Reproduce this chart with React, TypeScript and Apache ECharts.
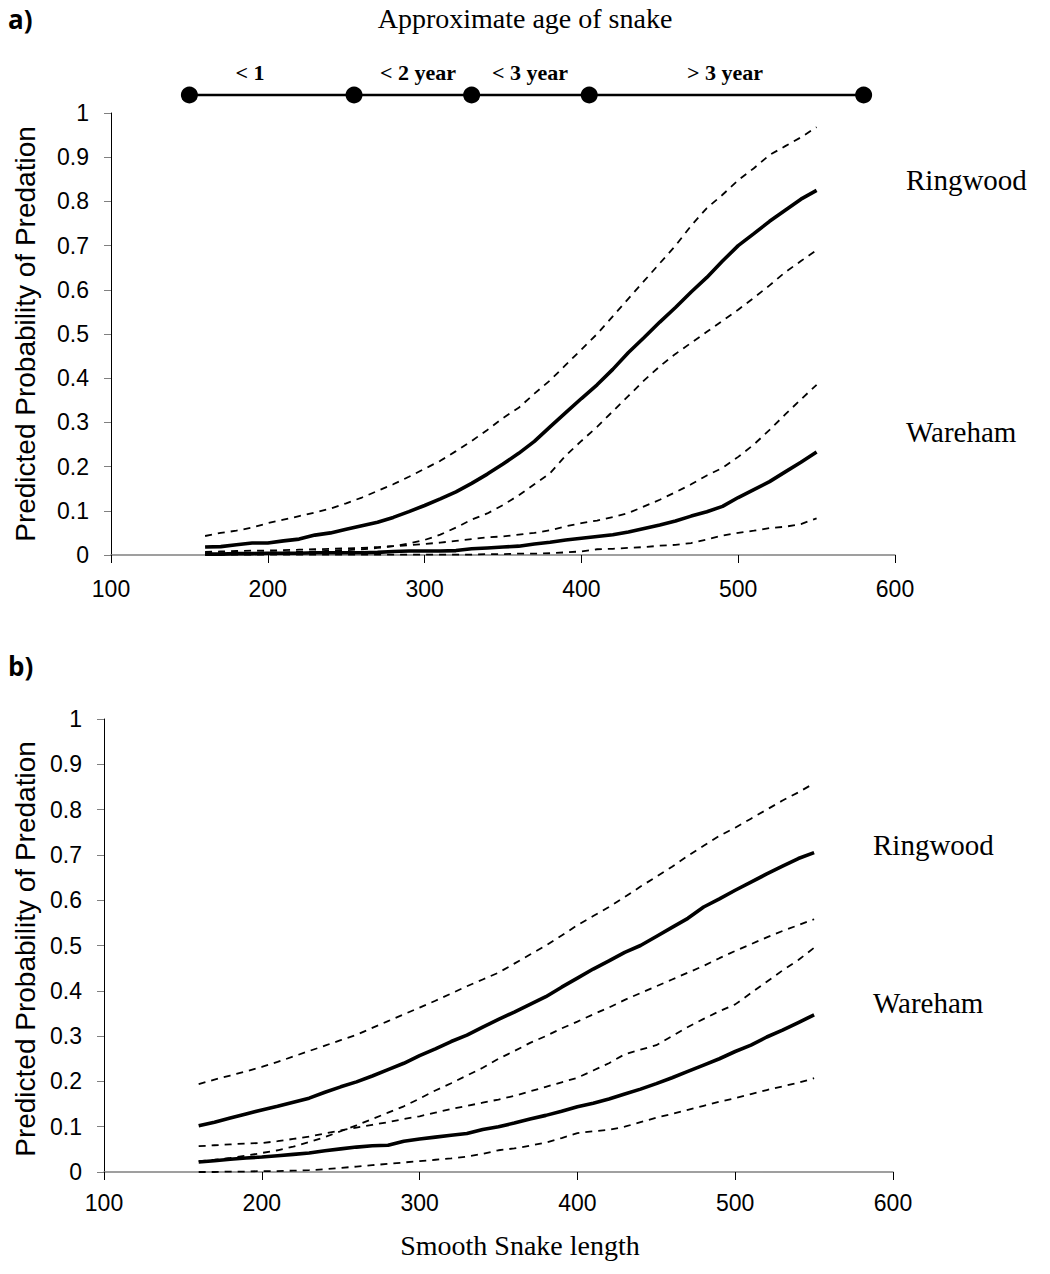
import React, { useEffect, useRef } from "react";
import * as echarts from "echarts";

// Snake length (mm)
const lengths = [160, 170, 180, 190, 200, 210, 220, 230, 240, 250, 260, 270, 280, 290, 300, 310, 320, 330, 340, 350, 360, 370, 380, 390, 400, 410, 420, 430, 440, 450, 460, 470, 480, 490, 500, 510, 520, 530, 540, 550];

// Panel a
const ringwoodA = [0.018, 0.019, 0.023, 0.027, 0.027, 0.032, 0.036, 0.045, 0.05, 0.058, 0.066, 0.074, 0.085, 0.098, 0.112, 0.127, 0.143, 0.162, 0.183, 0.206, 0.23, 0.257, 0.29, 0.322, 0.354, 0.385, 0.42, 0.458, 0.492, 0.527, 0.56, 0.595, 0.628, 0.665, 0.7, 0.727, 0.755, 0.78, 0.805, 0.825];
const ringwoodAUpper = [0.043, 0.05, 0.055, 0.062, 0.072, 0.08, 0.088, 0.096, 0.105, 0.117, 0.13, 0.145, 0.16, 0.177, 0.195, 0.213, 0.235, 0.258, 0.283, 0.31, 0.333, 0.365, 0.395, 0.43, 0.465, 0.5, 0.54, 0.58, 0.62, 0.66, 0.7, 0.745, 0.785, 0.815, 0.848, 0.875, 0.905, 0.925, 0.945, 0.968];
const ringwoodALower = [0.004, 0.004, 0.005, 0.005, 0.006, 0.006, 0.007, 0.008, 0.01, 0.011, 0.013, 0.016, 0.02, 0.026, 0.034, 0.046, 0.062, 0.08, 0.094, 0.113, 0.135, 0.16, 0.185, 0.225, 0.258, 0.29, 0.325, 0.36, 0.395, 0.427, 0.455, 0.48, 0.505, 0.53, 0.555, 0.582, 0.61, 0.64, 0.665, 0.69];
const warehamA = [0.002, 0.002, 0.003, 0.003, 0.004, 0.004, 0.004, 0.005, 0.005, 0.005, 0.005, 0.006, 0.008, 0.009, 0.009, 0.009, 0.01, 0.014, 0.016, 0.018, 0.02, 0.025, 0.029, 0.034, 0.038, 0.042, 0.046, 0.052, 0.06, 0.068, 0.077, 0.088, 0.098, 0.11, 0.13, 0.148, 0.166, 0.188, 0.21, 0.233];
const warehamAUpper = [0.007, 0.008, 0.009, 0.01, 0.01, 0.011, 0.012, 0.013, 0.014, 0.015, 0.016, 0.018, 0.02, 0.022, 0.025, 0.028, 0.032, 0.036, 0.04, 0.042, 0.046, 0.05, 0.056, 0.065, 0.072, 0.078, 0.086, 0.095, 0.11, 0.125, 0.142, 0.16, 0.18, 0.197, 0.222, 0.25, 0.283, 0.318, 0.352, 0.385];
const warehamALower = [0.001, 0.001, 0.001, 0.001, 0.001, 0.001, 0.001, 0.001, 0.001, 0.001, 0.001, 0.001, 0.001, 0.001, 0.001, 0.001, 0.001, 0.001, 0.002, 0.002, 0.003, 0.003, 0.004, 0.006, 0.008, 0.013, 0.014, 0.016, 0.018, 0.021, 0.023, 0.027, 0.035, 0.044, 0.05, 0.055, 0.061, 0.064, 0.07, 0.083];

// Panel b
const ringwoodB = [0.102, 0.11, 0.119, 0.128, 0.137, 0.145, 0.154, 0.163, 0.176, 0.188, 0.199, 0.212, 0.226, 0.24, 0.257, 0.272, 0.288, 0.302, 0.32, 0.337, 0.353, 0.37, 0.387, 0.408, 0.428, 0.448, 0.466, 0.485, 0.5, 0.52, 0.54, 0.56, 0.585, 0.603, 0.622, 0.64, 0.658, 0.675, 0.692, 0.705];
const ringwoodBUpper = [0.194, 0.204, 0.213, 0.222, 0.232, 0.243, 0.255, 0.267, 0.279, 0.291, 0.303, 0.318, 0.333, 0.348, 0.363, 0.378, 0.394, 0.41, 0.425, 0.44, 0.46, 0.48, 0.5, 0.522, 0.545, 0.565, 0.585, 0.607, 0.63, 0.652, 0.674, 0.698, 0.72, 0.742, 0.76, 0.78, 0.8, 0.82, 0.838, 0.858];
const ringwoodBLower = [0.024, 0.027, 0.031, 0.036, 0.042, 0.048, 0.056, 0.066, 0.077, 0.09, 0.103, 0.117, 0.131, 0.145, 0.162, 0.18, 0.196, 0.213, 0.23, 0.25, 0.267, 0.285, 0.3, 0.317, 0.332, 0.348, 0.363, 0.38, 0.395, 0.41, 0.425, 0.44, 0.455, 0.472, 0.488, 0.503, 0.518, 0.532, 0.545, 0.558];
const warehamB = [0.022, 0.025, 0.028, 0.031, 0.033, 0.036, 0.039, 0.042, 0.047, 0.051, 0.055, 0.058, 0.059, 0.068, 0.073, 0.077, 0.081, 0.085, 0.094, 0.1, 0.108, 0.117, 0.125, 0.134, 0.144, 0.152, 0.161, 0.172, 0.183, 0.195, 0.208, 0.222, 0.236, 0.25, 0.266, 0.28, 0.298, 0.313, 0.33, 0.347];
const warehamBUpper = [0.057, 0.059, 0.061, 0.063, 0.064, 0.068, 0.073, 0.078, 0.085, 0.092, 0.098, 0.104, 0.11, 0.117, 0.123, 0.131, 0.139, 0.146, 0.153, 0.16, 0.168, 0.178, 0.188, 0.198, 0.208, 0.224, 0.24, 0.26, 0.27, 0.28, 0.3, 0.32, 0.338, 0.355, 0.37, 0.395, 0.42, 0.445, 0.468, 0.495];
const warehamBLower = [0.0, 0.0, 0.001, 0.001, 0.002, 0.002, 0.003, 0.004, 0.006, 0.009, 0.012, 0.015, 0.018, 0.021, 0.024, 0.027, 0.03, 0.034, 0.04, 0.048, 0.052, 0.058, 0.065, 0.075, 0.086, 0.09, 0.093, 0.1, 0.11, 0.12, 0.128, 0.137, 0.146, 0.155, 0.163, 0.172, 0.181, 0.189, 0.197, 0.207];

// Age timeline (snake length at age boundaries)
const ageBreaks = [150, 255, 330, 405, 580];
const ageLabels = ["< 1", "< 2 year", "< 3 year", "> 3 year"];

const SANS = "'Liberation Sans', Arial, sans-serif";
const SERIF = "'Liberation Serif', 'Times New Roman', serif";

export default function App() {
  const ref = useRef<HTMLDivElement>(null);

  useEffect(() => {
    const chart = echarts.init(ref.current!, null, { renderer: "svg" });

    const pairs = (arr: number[]) => lengths.map((x, i) => [x, arr[i]]);
    const mk = (name: string, arr: number[], idx: number, solid: boolean) => ({
      name,
      type: "line",
      xAxisIndex: idx,
      yAxisIndex: idx,
      data: pairs(arr),
      symbol: "none",
      smooth: false,
      lineStyle: solid
        ? { color: "#000", width: 3.6, type: "solid" }
        : { color: "#000", width: 1.8, type: [7, 6] },
      silent: true,
    });

    const xAxisBase = (gridIndex: number, margin: number) => ({
      type: "value",
      gridIndex,
      min: 100,
      max: 600,
      interval: 100,
      axisLine: { show: true, onZero: false, lineStyle: { color: "#808080", width: 1.5 } },
      axisTick: { show: true, inside: false, length: 8, lineStyle: { color: "#000", width: 1 } },
      axisLabel: { color: "#000", fontSize: 23, fontFamily: SANS, margin },
      splitLine: { show: false },
    });
    const yAxisBase = (gridIndex: number) => ({
      type: "value",
      gridIndex,
      min: 0,
      max: 1,
      interval: 0.1,
      axisLine: { show: true, onZero: false, lineStyle: { color: "#000", width: 1 } },
      axisTick: { show: true, inside: false, length: 7, lineStyle: { color: "#808080", width: 1 } },
      axisLabel: { color: "#000", fontSize: 23, fontFamily: SANS, margin: 22 },
      splitLine: { show: false },
    });

    // label positions (px) for age classes
    const ageLabelX = [250, 418, 530, 725];

    const graphic: any[] = [
      { type: "text", x: 8, y: 19, style: { text: "a)", font: "bold 26px 'Open Sans', 'Liberation Sans', sans-serif", fill: "#000", verticalAlign: "middle" } },
      { type: "text", x: 8, y: 666, style: { text: "b)", font: "bold 26px 'Open Sans', 'Liberation Sans', sans-serif", fill: "#000", verticalAlign: "middle" } },
      { type: "text", x: 525, y: 18, style: { text: "Approximate age of snake", font: `28px ${SERIF}`, fill: "#000", align: "center", verticalAlign: "middle" } },
      ...ageLabels.map((t, i) => ({
        type: "text", x: ageLabelX[i], y: 72,
        style: { text: t, font: `bold 22px ${SERIF}`, fill: "#000", align: "center", verticalAlign: "middle" },
      })),
      { type: "text", x: 906, y: 180, style: { text: "Ringwood", font: `29px ${SERIF}`, fill: "#000", align: "left", verticalAlign: "middle" } },
      { type: "text", x: 906, y: 432, style: { text: "Wareham", font: `29px ${SERIF}`, fill: "#000", align: "left", verticalAlign: "middle" } },
      { type: "text", x: 873, y: 845, style: { text: "Ringwood", font: `29px ${SERIF}`, fill: "#000", align: "left", verticalAlign: "middle" } },
      { type: "text", x: 873, y: 1003, style: { text: "Wareham", font: `29px ${SERIF}`, fill: "#000", align: "left", verticalAlign: "middle" } },
      { type: "text", x: 25, y: 334, rotation: Math.PI / 2, style: { text: "Predicted Probability of Predation", font: `28px ${SANS}`, fill: "#000", align: "center", verticalAlign: "middle" } },
      { type: "text", x: 25, y: 949, rotation: Math.PI / 2, style: { text: "Predicted Probability of Predation", font: `28px ${SANS}`, fill: "#000", align: "center", verticalAlign: "middle" } },
      { type: "text", x: 520, y: 1245, style: { text: "Smooth Snake length", font: `28px ${SERIF}`, fill: "#000", align: "center", verticalAlign: "middle" } },
    ];

    chart.setOption({
      animation: false,
      backgroundColor: "#fff",
      grid: [
        { left: 111, top: 113, width: 784, height: 442 },
        { left: 104, top: 719, width: 789, height: 453 },
        { left: 111, top: 85, width: 784, height: 20 },
      ],
      xAxis: [
        xAxisBase(0, 22),
        xAxisBase(1, 19),
        { type: "value", gridIndex: 2, min: 100, max: 600, show: false },
      ],
      yAxis: [
        yAxisBase(0),
        yAxisBase(1),
        { type: "value", gridIndex: 2, min: -1, max: 1, show: false },
      ],
      series: [
        mk("Ringwood a", ringwoodA, 0, true),
        mk("Ringwood a upper", ringwoodAUpper, 0, false),
        mk("Ringwood a lower", ringwoodALower, 0, false),
        mk("Wareham a", warehamA, 0, true),
        mk("Wareham a upper", warehamAUpper, 0, false),
        mk("Wareham a lower", warehamALower, 0, false),
        mk("Ringwood b", ringwoodB, 1, true),
        mk("Ringwood b upper", ringwoodBUpper, 1, false),
        mk("Ringwood b lower", ringwoodBLower, 1, false),
        mk("Wareham b", warehamB, 1, true),
        mk("Wareham b upper", warehamBUpper, 1, false),
        mk("Wareham b lower", warehamBLower, 1, false),
        {
          name: "Age",
          type: "line",
          xAxisIndex: 2,
          yAxisIndex: 2,
          data: ageBreaks.map((x) => [x, 0]),
          symbol: "circle",
          symbolSize: 17,
          showSymbol: true,
          itemStyle: { color: "#000" },
          lineStyle: { color: "#000", width: 2.5 },
          silent: true,
        },
      ],
      graphic,
    });

    return () => chart.dispose();
  }, []);

  return (
    <div
      ref={ref}
      style={{ position: "absolute", left: 0, top: 0, width: 1050, height: 1274, background: "#fff" }}
    />
  );
}
